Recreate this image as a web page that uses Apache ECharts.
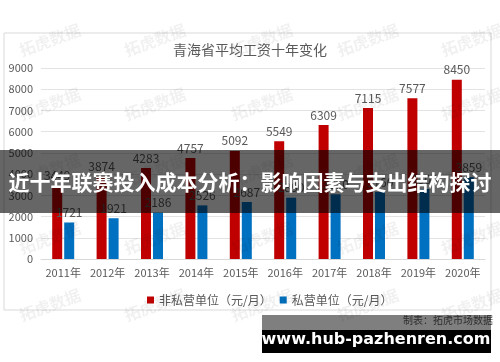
<!DOCTYPE html>
<html>
<head>
<meta charset="utf-8">
<script src="https://cdn.jsdelivr.net/npm/echarts@6/dist/echarts.min.js"></script>
<style>
html,body{margin:0;padding:0;background:#fff;}
#chart{width:500px;height:362px;}
</style>
</head>
<body>
<div id="chart"></div>
<script>
var categories = ['2011年','2012年','2013年','2014年','2015年','2016年','2017年','2018年','2019年','2020年'];
var nonPrivate = [3449, 3874, 4283, 4757, 5092, 5549, 6309, 7115, 7577, 8450];
var privateUnit = [1721, 1921, 2186, 2526, 2687, 2890, 3050, 3160, 3300, 3859];
var seriesNames = ['非私营单位（元/月）', '私营单位（元/月）'];
var chartTitle = '青海省平均工资十年变化';
var bannerText = '近十年联赛投入成本分析：影响因素与支出结构探讨';
var urlText = 'www.hub-pazhenren.com';
var sourceText = '制表：拓虎市场数据';
var watermarkText = '拓虎数据';

var chart = echarts.init(document.getElementById('chart'));
var font = '"Noto Sans CJK SC", "Noto Sans", sans-serif';

var graphics = [
  { type: 'rect', shape: { x: 4, y: 33, width: 487, height: 277 }, style: { fill: 'none', stroke: '#d9d9d9', lineWidth: 1 }, z: 0, silent: true }
];
var wmCols = [50, 155, 262, 368, 472];
var wmRows = [40, 104, 170, 238, 305];
wmRows.forEach(function (y) {
  wmCols.forEach(function (x) {
    graphics.push({
      type: 'text', x: x, y: y, rotation: 0.35, z: 50, silent: true,
      style: { text: watermarkText, fill: 'rgba(0,0,0,0.06)', font: 'bold 16px ' + font, textAlign: 'center', textVerticalAlign: 'middle' }
    });
  });
});
graphics.push(
  { type: 'text', x: 493, y: 320, z: 60, silent: true,
    style: { text: sourceText, fill: '#595959', font: '10px ' + font, textAlign: 'right', textVerticalAlign: 'middle' } },
  { type: 'rect', shape: { x: 0, y: 150, width: 500, height: 63 }, style: { fill: 'rgba(0,0,0,0.6)' }, z: 100, silent: true },
  { type: 'text', x: 250, y: 182, z: 101, silent: true,
    style: { text: bannerText, fill: '#ffffff', font: 'bold 21px ' + font, textAlign: 'center', textVerticalAlign: 'middle' } },
  { type: 'rect', shape: { x: 262, y: 315, width: 229, height: 15 }, style: { fill: 'rgba(0,0,0,0.5)' }, z: 100, silent: true },
  { type: 'rect', shape: { x: 262, y: 330, width: 229, height: 23 }, style: { fill: '#000000' }, z: 100, silent: true },
  { type: 'text', x: 376, y: 340, z: 101, silent: true,
    style: { text: urlText, fill: '#ffffff', font: 'bold 16px "DejaVu Sans", sans-serif', textAlign: 'center', textVerticalAlign: 'middle' } }
);

var labelStyle = { show: true, position: 'top', distance: 4, color: '#595959', fontSize: 12, fontFamily: font };

chart.setOption({
  animation: false,
  backgroundColor: '#ffffff',
  title: {
    text: chartTitle, left: 'center', top: 38,
    textStyle: { fontSize: 14, fontWeight: 'normal', color: '#595959', fontFamily: font }
  },
  legend: {
    left: 142, top: 289, itemWidth: 7, itemHeight: 7, itemGap: 8, icon: 'rect',
    textStyle: { fontSize: 12, color: '#595959', fontFamily: font },
    data: seriesNames
  },
  grid: { left: 41, right: 15, top: 68, bottom: 103, containLabel: false },
  xAxis: {
    type: 'category', data: categories,
    axisLine: { lineStyle: { color: '#d9d9d9' } },
    axisTick: { show: false },
    axisLabel: { color: '#595959', fontSize: 11, fontFamily: font, margin: 8, interval: 0 }
  },
  yAxis: {
    type: 'value', min: 0, max: 9000, interval: 1000,
    axisLine: { show: false }, axisTick: { show: false },
    splitLine: { lineStyle: { color: '#e3e3e3' } },
    axisLabel: { color: '#595959', fontSize: 11, fontFamily: font, margin: 8,
      formatter: function (v) { return String(v); } }
  },
  series: [
    { name: seriesNames[0], type: 'bar', data: nonPrivate, barWidth: 10, barGap: '20%',
      itemStyle: { color: '#C00000' }, label: labelStyle },
    { name: seriesNames[1], type: 'bar', data: privateUnit, barWidth: 10, barGap: '20%',
      itemStyle: { color: '#0070C0' }, label: labelStyle }
  ],
  graphic: graphics
});
</script>
</body>
</html>
